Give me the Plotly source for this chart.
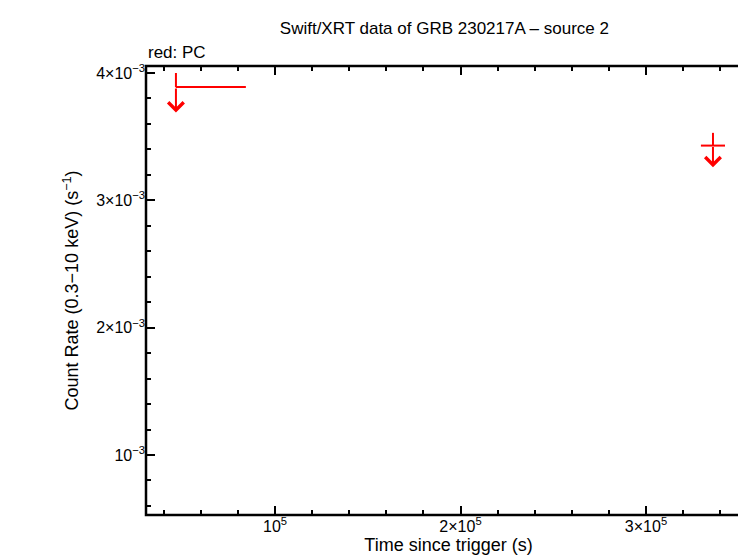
import plotly.graph_objects as go

x = [46600, 336100]
xerr_minus = [0, 6500]
xerr_plus = [37700, 6500]
y = [3.89e-3, 3.43e-3]
yerr_up = [0.11e-3, 0.10e-3]
arrow_len = [0.2e-3, 0.17e-3]

xtick_vals = [1e5, 2e5, 3e5]
xtick_text = ["10<sup>5</sup>", "2×10<sup>5</sup>", "3×10<sup>5</sup>"]
ytick_vals = [1e-3, 2e-3, 3e-3, 4e-3]
ytick_text = ["10<sup>−3</sup>", "2×10<sup>−3</sup>", "3×10<sup>−3</sup>", "4×10<sup>−3</sup>"]

fig = go.Figure()
fig.add_trace(go.Scatter(
    x=x, y=y, mode="markers", marker=dict(size=1, color="red"),
    error_x=dict(type="data", symmetric=False, array=xerr_plus, arrayminus=xerr_minus,
                 color="red", thickness=2, width=0),
    error_y=dict(type="data", symmetric=False, array=yerr_up, arrayminus=[0, 0],
                 color="red", thickness=2, width=0),
    showlegend=False))
for xi, yi, L in zip(x, y, arrow_len):
    fig.add_annotation(x=xi, y=yi - L, ax=xi, ay=yi, xref="x", yref="y", axref="x", ayref="y",
                       showarrow=True, arrowhead=4, arrowsize=1.5, arrowwidth=2, arrowcolor="red", text="")

axis_common = dict(showgrid=False, zeroline=False, showline=False, automargin=False,
                   ticks="inside", ticklen=9, tickwidth=1.5, tickcolor="black", mirror="ticks",
                   tickfont=dict(family="Liberation Sans", size=16, color="black"))
fig.update_xaxes(range=[30460, 356600], tickvals=xtick_vals, ticktext=xtick_text,
                 minor=dict(ticks="inside", ticklen=5, dtick=2e4, tickcolor="black"),
                 title=dict(text="Time since trigger (s)", font=dict(family="Liberation Sans", size=18, color="black"), standoff=4),
                 **axis_common)
fig.update_yaxes(range=[0.529e-3, 4.055e-3], tickvals=ytick_vals, ticktext=ytick_text,
                 minor=dict(ticks="inside", ticklen=5, dtick=2e-4, tickcolor="black"),
                 title=dict(text="Count Rate (0.3−10 keV) (s<sup>−1</sup>)", font=dict(family="Liberation Sans", size=18, color="black"), standoff=12),
                 **axis_common)
fig.add_shape(type="rect", xref="paper", yref="paper", x0=0, y0=0, x1=1, y1=1,
              line=dict(color="black", width=2.5))
fig.update_layout(width=746, height=558, plot_bgcolor="white", paper_bgcolor="white",
                  margin=dict(l=138, r=3, t=58, b=51),
                  title=dict(text="Swift/XRT data of GRB 230217A – source 2", x=0.585, y=0.975,
                             xanchor="center", font=dict(family="Liberation Sans", size=17, color="black")))
fig.add_annotation(text="red: PC", xref="paper", yref="paper", x=0, y=1.0, yshift=2,
                   xanchor="left", yanchor="bottom", showarrow=False,
                   font=dict(family="Liberation Sans", size=17, color="black"))
fig.write_html("out.html")
